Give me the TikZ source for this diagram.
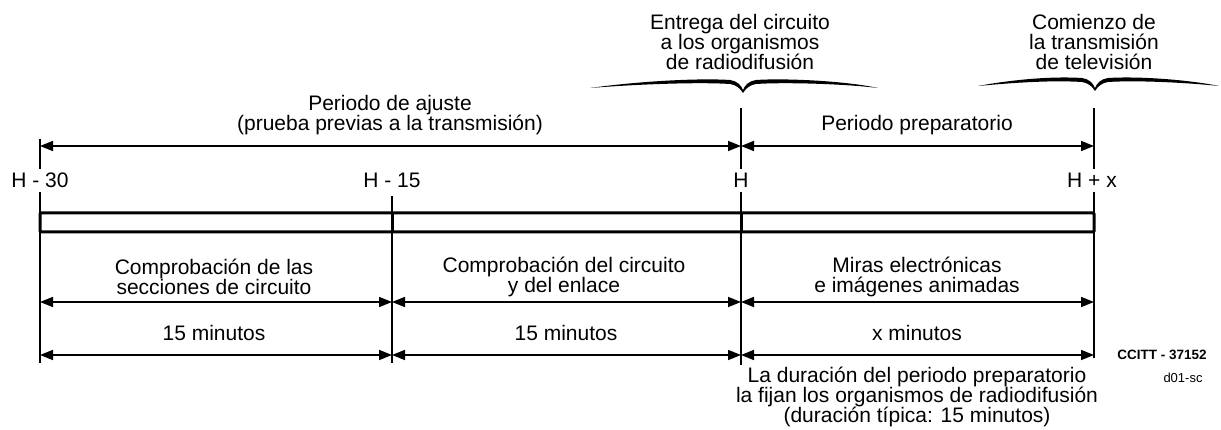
\documentclass[tikz,border=0pt]{standalone}
\usepackage{fontspec}
\setmainfont{Liberation Sans}
\usetikzlibrary{arrows.meta}
\begin{document}
\begin{tikzpicture}[x=1pt,y=-1pt,
  rule/.style={line width=1.6pt},
  dim/.style={line width=1.6pt,{Triangle[length=13pt,width=10pt]}-{Triangle[length=13pt,width=10pt]}},
  lbl/.style={font=\fontsize{21}{20}\selectfont,align=center,inner sep=0pt},
  tlabel/.style={fill=white,font=\fontsize{21}{20}\selectfont,inner sep=4pt,text height=15pt,text depth=0pt,anchor=base},
  barline/.style={line width=3pt}]
\useasboundingbox (0,0) rectangle (1221,430);

% key coordinates
\coordinate (A1) at (40,139);  \coordinate (A2) at (40,213);
\coordinate (B1) at (392,196); \coordinate (B2) at (392,213);
\coordinate (C1) at (741,108); \coordinate (C2) at (741,213);
\coordinate (D1) at (1094,108); \coordinate (D2) at (1094,213);
\coordinate (Ab) at (40,232);  \coordinate (Ae) at (40,363);
\coordinate (Bb) at (392,232); \coordinate (Be) at (392,363);
\coordinate (Cb) at (741,232); \coordinate (Ce) at (741,365);
\coordinate (Db) at (1094,232); \coordinate (De) at (1094,358);

% bar
\draw[barline,rounded corners=1pt] (40,213) rectangle (1094,232);
\draw[barline] (B2) -- (Bb);
\draw[barline] (C2) -- (Cb);

% vertical rules above
\draw[rule] (A1) -- (A2);
\draw[rule] (C1) -- (C2);
\draw[rule] (D1) -- (D2);
\draw[rule] (B1) -- (B2);

% vertical rules below
\draw[rule] (Ab) -- (Ae);
\draw[rule] (Bb) -- (Be);
\draw[rule] (Cb) -- (Ce);
\draw[rule] (Db) -- (De);

% time labels
\node[tlabel] (h30) at (40,188) {H - 30};
\node[tlabel] (h15) at (392,188) {H - 15};
\node[tlabel] (h0) at (741,188) {H};
\node[tlabel] (hx) at (1092,188) {H + x};

% top arrows
\coordinate (T1) at (40,146); \coordinate (T2) at (741,146); \coordinate (T3) at (1094,146);
\draw[dim] (T1) -- (T2);
\draw[dim] (T2) -- (T3);
\node[lbl] (ajuste) at (390,115) {Periodo de ajuste\\(prueba previas a la transmisión)};
\node[lbl] (prep) at (917,125) {Periodo preparatorio};

% top notes with braces
\node[lbl] (entrega) at (740,42) {Entrega del circuito\\a los organismos\\de radiodifusión};
\node[lbl] (comienzo) at (1094,42) {Comienzo de\\la transmisión\\de televisión};
\fill (590,88) .. controls (640,81) and (700,78) .. (730,80) .. controls (737,81) and (741,85) .. (743,90)
  .. controls (745,85) and (749,81) .. (756,80) .. controls (786,78) and (846,81) .. (878,88)
  .. controls (846,84) and (786,82) .. (756,84) .. controls (750,85) and (746,88) .. (743,93)
  .. controls (740,88) and (736,85) .. (730,84) .. controls (700,82) and (640,84) .. (590,88) -- cycle;
\fill (978,86) .. controls (1010,80) and (1050,76) .. (1082,78) .. controls (1089,79) and (1093,83) .. (1095,88)
  .. controls (1097,83) and (1101,79) .. (1108,78) .. controls (1140,76) and (1190,80) .. (1219,86)
  .. controls (1190,83) and (1140,80) .. (1108,82) .. controls (1102,83) and (1098,86) .. (1095,91)
  .. controls (1092,86) and (1088,83) .. (1082,82) .. controls (1050,80) and (1010,83) .. (978,86) -- cycle;

% bottom arrows row 1
\coordinate (R1a) at (40,302); \coordinate (R1b) at (392,302);
\coordinate (R1c) at (741,302); \coordinate (R1d) at (1094,302);
\draw[dim] (R1a) -- (R1b);
\draw[dim] (R1b) -- (R1c);
\draw[dim] (R1c) -- (R1d);
\node[lbl] (sec) at (214,277) {Comprobación de las\\secciones de circuito};
\node[lbl] (enl) at (564,277) {Comprobación del circuito\\y del enlace};
\node[lbl] (miras) at (917,277) {Miras electrónicas\\e imágenes animadas};

% bottom arrows row 2
\coordinate (R2a) at (40,355); \coordinate (R2b) at (392,355);
\coordinate (R2c) at (741,355); \coordinate (R2d) at (1094,355);
\draw[dim] (R2a) -- (R2b);
\draw[dim] (R2b) -- (R2c);
\draw[dim] (R2c) -- (R2d);
\node[lbl] (m1) at (214,333) {15 minutos};
\node[lbl] (m2) at (566,333) {15 minutos};
\node[lbl] (m3) at (917,333) {x minutos};

\node[lbl] (dur) at (917,397) {La duración del periodo preparatorio\\la fijan los organismos de radiodifusión\\(duración típica: 15 minutos)};
\node[lbl,font=\fontsize{13.5}{14}\selectfont\bfseries] (ccitt) at (1162,355) {CCITT - 37152};
\node[lbl,font=\fontsize{13}{14}\selectfont] (d01) at (1183,378) {d01-sc};
\end{tikzpicture}
\end{document}
